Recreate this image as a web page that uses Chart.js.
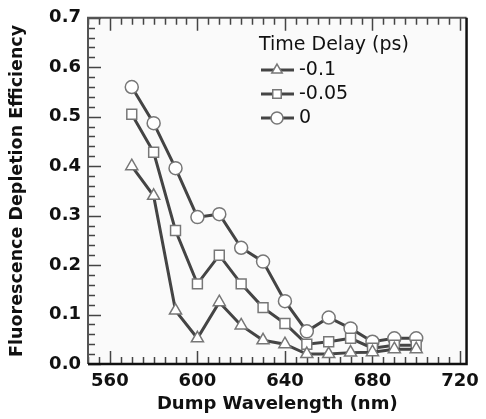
<!DOCTYPE html>
<html>
<head>
<meta charset="utf-8">
<script src="https://cdn.jsdelivr.net/npm/chart.js@4/dist/chart.umd.min.js"></script>
<style>
  html, body { margin: 0; padding: 0; background: #fff; }
  .wrap { width: 486px; height: 419px; }
</style>
</head>
<body>
<div class="wrap"><canvas id="c" width="486" height="419"></canvas></div>
<script>
// dump wavelength (nm)
const wavelengths = [570, 580, 590, 600, 610, 620, 630, 640, 650, 660, 670, 680, 690, 700];
// depletion efficiency per time delay
const delayLabels = ["-0.1", "-0.05", "0"];
const effMinus01 = [0.40, 0.34, 0.108, 0.052, 0.125, 0.078, 0.048, 0.04, 0.02, 0.02, 0.023, 0.024, 0.03, 0.03];
const effMinus005 = [0.505, 0.428, 0.27, 0.162, 0.22, 0.162, 0.114, 0.082, 0.04, 0.045, 0.052, 0.032, 0.038, 0.038];
const effZero = [0.56, 0.487, 0.396, 0.297, 0.303, 0.235, 0.207, 0.127, 0.066, 0.094, 0.072, 0.045, 0.052, 0.052];
const xTickValues = [560, 600, 640, 680, 720];
const yTickValues = [0, 0.1, 0.2, 0.3, 0.4, 0.5, 0.6, 0.7];

const FONT = "'DejaVu Sans', Verdana, sans-serif";
const LINE = "#444";
const MARK = "#777";

function series(values) {
  return wavelengths.map((w, i) => ({ x: w, y: values[i] }));
}

const markerStyle = {
  borderColor: LINE,
  borderWidth: 3,
  pointBackgroundColor: "#fff",
  pointBorderColor: MARK,
  pointBorderWidth: 1.5,
  showLine: true,
  tension: 0,
};

// plot background, box and inward ticks
const frame = {
  id: "frame",
  beforeDraw(chart) {
    const { ctx, chartArea: a } = chart;
    ctx.save();
    ctx.fillStyle = "#fafafa";
    ctx.fillRect(a.left, a.top, a.right - a.left, a.bottom - a.top);
    ctx.restore();
  },
  beforeDatasetsDraw(chart) {
    const { ctx, chartArea: a, scales } = chart;
    const x = scales.x, y = scales.y;
    ctx.save();
    ctx.strokeStyle = LINE;
    ctx.lineWidth = 1.5;
    ctx.beginPath();
    for (let v = 550; v <= 720; v += 5) {
      const px = Math.round(x.getPixelForValue(v)) + 0.5;
      const len = (v - 560) % 40 === 0 ? 13 : 7;
      ctx.moveTo(px, a.bottom); ctx.lineTo(px, a.bottom - len);
      ctx.moveTo(px, a.top); ctx.lineTo(px, a.top + len);
    }
    for (let k = 0; k <= 35; k++) {
      const py = Math.round(y.getPixelForValue(k * 0.02)) + 0.5;
      const len = k % 5 === 0 ? 13 : 7;
      ctx.moveTo(a.left, py); ctx.lineTo(a.left + len, py);
    }
    ctx.stroke();
    ctx.lineWidth = 2;
    ctx.strokeStyle = "#555";
    ctx.beginPath();
    ctx.moveTo(a.left, a.bottom); ctx.lineTo(a.left, a.top); ctx.lineTo(a.right, a.top);
    ctx.stroke();
    ctx.strokeStyle = "#111";
    ctx.lineWidth = 2.5;
    ctx.beginPath();
    ctx.moveTo(a.right, a.top); ctx.lineTo(a.right, a.bottom); ctx.lineTo(a.left, a.bottom);
    ctx.stroke();
    ctx.restore();
  },
};

// legend with title inside the plot
const boxLegend = {
  id: "boxLegend",
  afterDraw(chart) {
    const { ctx } = chart;
    const x0 = 259, y0 = 45, gap = 24;
    ctx.save();
    ctx.textBaseline = "middle";
    ctx.font = "19px " + FONT;
    ctx.fillStyle = "#111";
    ctx.fillText("Time Delay (ps)", x0, y0);
    chart.data.datasets.forEach((ds, i) => {
      const yy = y0 + gap * (i + 1) + 1;
      ctx.strokeStyle = LINE;
      ctx.lineWidth = 3;
      ctx.beginPath();
      ctx.moveTo(x0 + 2, yy); ctx.lineTo(x0 + 35, yy);
      ctx.stroke();
      ctx.fillStyle = "#fff";
      ctx.strokeStyle = MARK;
      ctx.lineWidth = 1.5;
      Chart.helpers.drawPoint(ctx, { pointStyle: ds.pointStyle, radius: 6, rotation: 0, borderWidth: 1.5 }, x0 + 18, yy);
      ctx.fillStyle = "#111";
      ctx.fillText(ds.label, x0 + 40, yy);
    });
    ctx.restore();
  },
};

new Chart(document.getElementById("c"), {
  type: "scatter",
  data: {
    datasets: [
      Object.assign({ label: delayLabels[0], data: series(effMinus01), pointStyle: "triangle", pointRadius: 7 }, markerStyle),
      Object.assign({ label: delayLabels[1], data: series(effMinus005), pointStyle: "rect", pointRadius: 7 }, markerStyle),
      Object.assign({ label: delayLabels[2], data: series(effZero), pointStyle: "circle", pointRadius: 6.5 }, markerStyle),
    ],
  },
  options: {
    responsive: false,
    animation: false,
    layout: { padding: { top: 15, right: 13, left: 0, bottom: 0 } },
    plugins: { legend: { display: false }, tooltip: { enabled: false } },
    scales: {
      x: {
        type: "linear",
        min: 550,
        max: 723,
        afterFit(s) { s.height = 55; },
        afterBuildTicks(s) { s.ticks = xTickValues.map((v) => ({ value: v })); },
        grid: { display: false, drawTicks: false },
        border: { display: false },
        ticks: { color: "#111", padding: 7, maxRotation: 0, font: { family: FONT, size: 18, weight: "bold" } },
        title: {
          display: true, text: "Dump Wavelength (nm)", color: "#111",
          padding: { top: 0, bottom: 4 },
          font: { family: FONT, size: 18, weight: "bold" },
        },
      },
      y: {
        min: 0,
        max: 0.7,
        afterFit(s) { s.width = 88; },
        afterBuildTicks(s) { s.ticks = yTickValues.map((v) => ({ value: v })); },
        grid: { display: false, drawTicks: false },
        border: { display: false },
        ticks: {
          color: "#111", padding: 7,
          font: { family: FONT, size: 18, weight: "bold" },
          callback: (v) => v.toFixed(1),
        },
        title: {
          display: true, text: "Fluorescence Depletion Efficiency", color: "#111",
          padding: { top: 7, bottom: 0 },
          font: { family: FONT, size: 17.5, weight: "bold" },
        },
      },
    },
  },
  plugins: [frame, boxLegend],
});
</script>
</body>
</html>
